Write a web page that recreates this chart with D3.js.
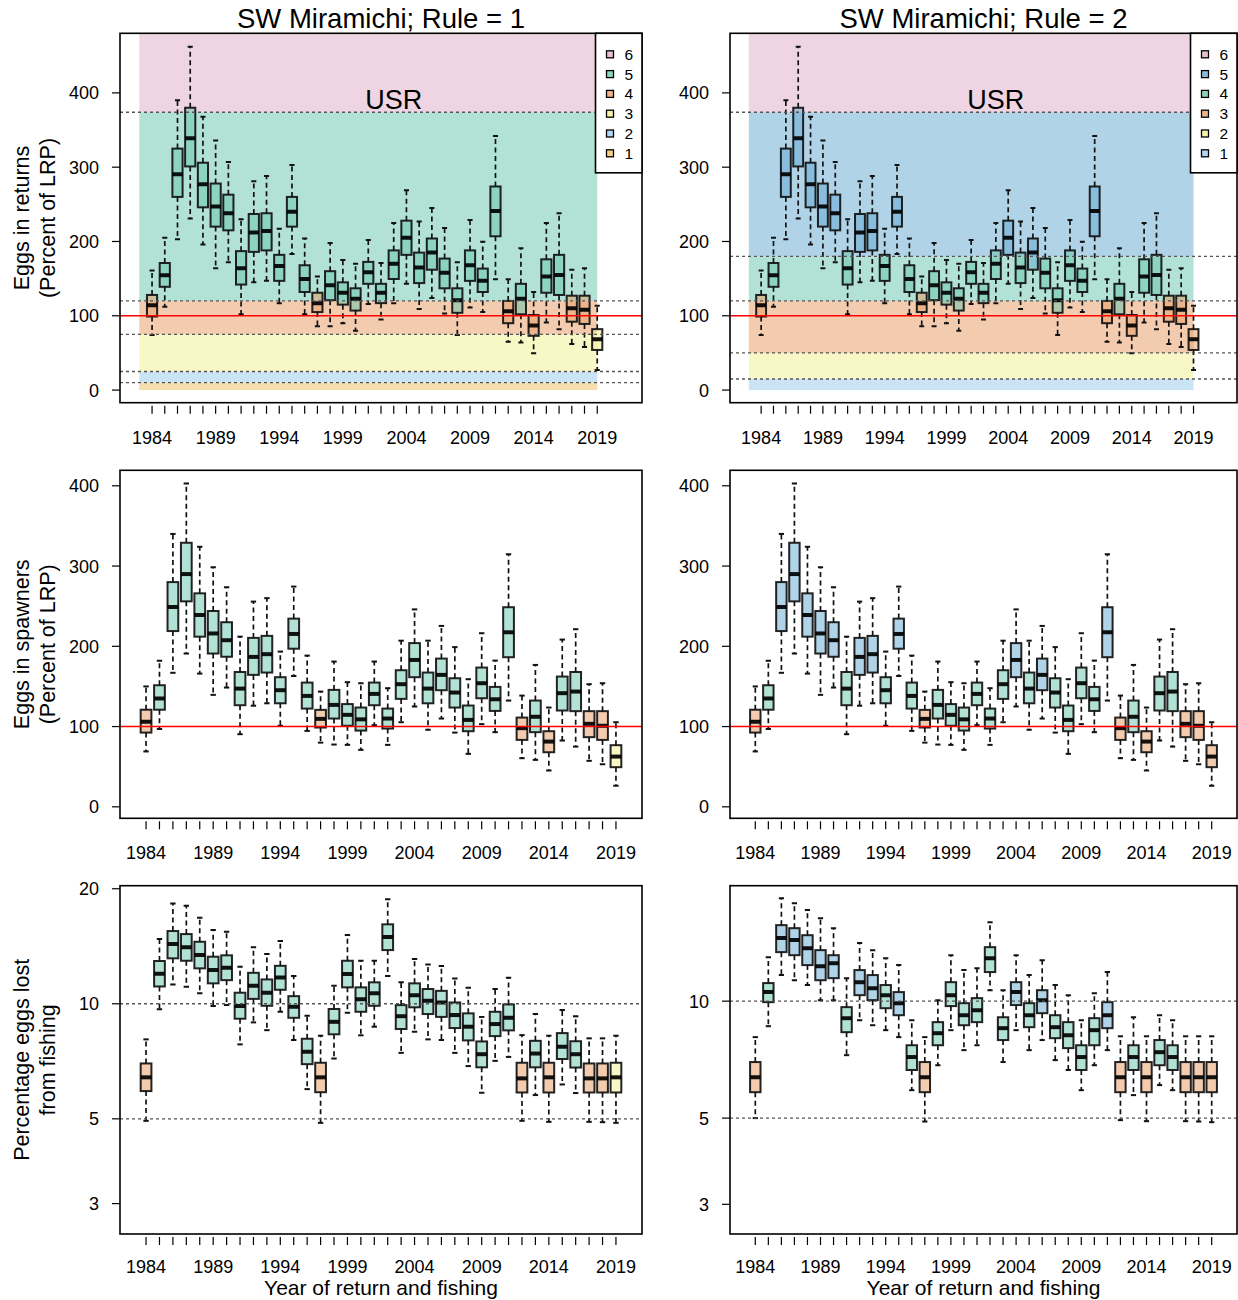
<!DOCTYPE html>
<html>
<head>
<meta charset="utf-8">
<script src="https://cdn.jsdelivr.net/npm/d3@7"></script>
<style>
  body { margin: 0; background: #fff; }
  text { font-family: "Liberation Sans", Arial, Helvetica, sans-serif; fill: #000; }
</style>
</head>
<body>
<script>
// ---- Data: SW Miramichi egg depositions (percent of LRP) and fishing losses ----
const years = [1984,1985,1986,1987,1988,1989,1990,1991,1992,1993,1994,1995,1996,1997,1998,1999,2000,2001,
               2002,2003,2004,2005,2006,2007,2008,2009,2010,2011,2012,2013,2014,2015,2016,2017,2018,2019];
const yearLabels = ["1984","1989","1994","1999","2004","2009","2014","2019"];

// Eggs in returns (percent of LRP): whisker low, Q1, median, Q3, whisker high
const returnsLow  = [74,112,203,231,196,164,172,102,145,147,117,183,102,86,86,90,80,116,95,117,143,109,124,103,74,111,105,149,65,64,49.5,91,82,62,58,27];
const returnsQ1   = [99,139,260,301,246,220,215,142,186,188,147,220,132,105,121,115,107,143,117,149.5,182,144,162,137,104,147,132,207,90,102,73,131,128,92,89,54];
const returnsMed  = [114,154.5,290.5,339,277,247,238,164,212,214,167,240,149.5,117,141,131,123,158.5,131,170,205,165,185,158,121,168,147,241,106,123,87,153,155,110,108,68.5];
const returnsQ3   = [128,171,325,380,306,278,263,187,237,238,182,260,168,131,160,145,137,172.5,143,188,228,185,204,177,137,188,163.5,274,120,143,101,176,182,127,127,82];
const returnsHigh = [161,205,390,462,368,336,307,230,281,288,217,303,204,153,198,175,170,202,171,225,269,227,245,218,172,229,199.5,342,149,191,132,225,238,162,164,113.5];

// Eggs in spawners (percent of LRP)
const spawnersLow  = [69,97,167,191,166,139.5,148.6,90.5,126,129,101,163,94.6,80,77.6,77.2,71,101.7,77.2,105.4,125,96,110,92.5,66,103,93,132.4,60.6,58.5,45.2,82.6,75,57.3,53.2,26.2];
const spawnersQ1   = [92.5,121,219,256,212,191,187,126.6,164.4,167.3,129,197,122.4,98.8,110,101,95,126.6,97.5,134.5,161.5,129,145.3,123.7,94.2,135.3,119.5,186.4,83.4,93,68,120,119.2,86.8,83.4,49.4];
const spawnersMed  = [106,135,249,290,239,216,207.6,147.3,186.8,190.2,145.3,215.4,138.2,109.6,127,114.6,109,140.7,110,152.8,183,147.3,164.4,142.4,108.3,154,134,217.5,98,112.2,81.3,141.6,143.6,103.4,101,62.6];
const spawnersQ3   = [121,151.5,280,329,266,244,230,168,210.5,213,161.5,234.5,154.8,120.8,145.7,128,123.7,154.8,122.4,170.2,204,167.3,184.7,160.2,126.2,173.5,149.4,248.7,111.2,132.4,94.2,162.3,168,119.2,119.2,76.8];
const spawnersHigh = [150,182,340,403,324,298.5,273.6,212,255.7,260,193.4,274.4,188.4,143.6,181,155.3,154,181,147.8,207,246,207,225.4,199,159,216.3,182.2,314.7,138.6,176.8,123.7,208.4,221.3,152.8,154,105.4];

// Percentage of eggs lost to fishing, Rule 1
const lost1Low  = [4.94,9.67,11.24,11.08,10.65,9.86,9.92,7.83,8.94,8.53,9.53,8.04,5.98,4.88,7.19,9.47,8.27,8.71,11.82,7.44,8.45,8.07,8.04,7.44,6.87,5.85,7.09,7.26,4.94,5.77,4.91,6.15,5.84,4.91,4.9,4.88];
const lost1Q1   = [5.91,11.1,13.15,12.96,12.38,11.31,11.53,9.14,10.3,9.88,10.88,9.19,6.95,5.87,8.32,11.04,9.53,9.88,13.82,8.59,9.79,9.4,9.24,8.64,8.02,6.82,8.23,8.52,5.86,6.82,5.86,7.17,6.81,5.86,5.86,5.86];
const lost1Med  = [6.42,11.98,14.33,14.05,13.41,12.25,12.42,9.86,11.15,10.69,11.72,9.82,7.49,6.42,8.97,11.96,10.27,10.66,14.95,9.28,10.52,10.18,10.08,9.34,8.71,7.38,8.85,9.19,6.38,7.41,6.42,7.72,7.38,6.38,6.38,6.42];
const lost1Q3   = [6.98,12.94,15.5,15.22,14.53,13.28,13.39,10.69,12.05,11.58,12.57,10.47,8.1,7.01,9.69,12.96,11.04,11.38,16.14,9.92,11.31,10.93,10.81,10.08,9.44,7.97,9.53,9.96,7.01,8.0,7.01,8.38,7.98,6.98,6.98,7.01];
const lost1High = [8.07,14.77,18.31,18.05,16.79,15.6,15.43,12.5,14.05,13.49,14.59,11.82,9.3,8.25,11.15,15.13,12.96,12.96,18.76,11.38,13.09,12.68,12.55,11.65,11.01,9.24,10.93,11.7,8.28,9.4,8.25,9.63,9.27,8.12,8.12,8.25];

// Percentage of eggs lost to fishing, Rule 2
const lost2Low  = [5.0,8.62,11.67,11.32,11.0,10.06,10.06,7.26,8.93,8.67,8.42,8.08,5.9,4.9,6.84,8.42,7.48,7.7,10.67,6.97,8.42,7.48,7.94,7.05,6.65,5.9,6.84,7.48,4.94,5.73,4.91,6.08,5.9,4.91,4.9,4.88];
const lost2Q1   = [5.83,9.94,13.37,13.13,12.38,11.32,11.46,8.32,10.36,10.06,9.59,9.2,6.65,5.83,7.7,9.71,8.67,8.83,11.88,7.94,9.77,8.57,9.31,8.03,7.57,6.65,7.7,8.52,5.83,6.65,5.83,6.84,6.65,5.83,5.83,5.83];
const lost2Med  = [6.37,10.55,14.53,14.36,13.69,12.3,12.52,9.04,11.19,10.8,10.36,9.88,7.18,6.37,8.27,10.36,9.2,9.48,12.9,8.52,10.55,9.2,10.06,8.57,8.17,7.18,8.42,9.2,6.37,7.18,6.37,7.39,7.18,6.37,6.37,6.37];
const lost2Q3   = [6.97,11.13,15.69,15.41,14.78,13.53,13.13,9.65,12.02,11.67,11.0,10.55,7.7,6.97,8.83,11.19,9.88,10.18,13.77,9.09,11.19,9.88,10.67,9.2,8.83,7.7,9.04,9.94,6.97,7.7,6.97,7.94,7.7,6.97,6.97,6.97];
const lost2High = [8.08,12.98,18.41,17.87,17.15,16.35,15.41,11.46,14.11,13.53,12.9,12.38,8.93,8.08,10.06,13.13,12.02,12.16,15.97,10.67,13.13,11.67,12.75,11.0,10.36,8.93,10.48,11.88,8.12,9.09,8.12,9.2,8.93,8.12,8.12,8.12];

// Management zone of each year under each rule (1 = lowest, 6 = above USR)
const zoneRule1 = [4,5,5,5,5,5,5,5,5,5,5,5,5,4,5,5,5,5,5,5,5,5,5,5,5,5,5,5,4,5,4,5,5,4,4,3];
const zoneRule2 = [3,4,5,5,5,5,5,4,5,5,4,5,4,3,4,4,4,4,4,4,5,4,5,4,4,4,4,5,3,4,3,4,4,3,3,3];

// Zone boundaries (percent of LRP); the top one is the USR
const limitsRule1 = [0, 10, 25, 75, 120, 374];
const limitsRule2 = [0, 15, 50, 120, 180, 374];
const legendLabels = ["6","5","4","3","2","1"];
const lrpLine = 100;
const lostRefLines = [10, 5];

// ---- Styling ----
const zoneColours = {
  1: {6:"#dfabc7", 5:"#65c5ab", 4:"#e89a62", 3:"#f2ef8d", 2:"#96c9ec", 1:"#edbd62"},
  2: {6:"#dfabc7", 5:"#61a7d1", 4:"#65c5ab", 3:"#e89a62", 2:"#f2ef8d", 1:"#96c9ec"}
};
const ALPHA = 0.5;

const svg = d3.select("body").append("svg").attr("width", 1238).attr("height", 1300);

const cols = [
  {rule: 1, x0: 120, x1: 642, zones: zoneRule1, limits: limitsRule1, lost: [lost1Low,lost1Q1,lost1Med,lost1Q3,lost1High], logDomain: [2.498, 20.37]},
  {rule: 2, x0: 730, x1: 1237, zones: zoneRule2, limits: limitsRule2, lost: [lost2Low,lost2Q1,lost2Med,lost2Q3,lost2High], logDomain: [2.516, 19.82]}
];
const rows = {
  top: {y0: 33.3, y1: 402.7, labelGap: 41},
  mid: {y0: 470.3, y1: 818.3, labelGap: 41},
  bot: {y0: 885.7, y1: 1234, labelGap: 38.5}
};

let clipCount = 0;

function statsOf(arrs) {
  return years.map((yr, i) => ({
    year: yr, pos: i + 1,
    lo: arrs[0][i], q1: arrs[1][i], med: arrs[2][i], q3: arrs[3][i], hi: arrs[4][i]
  }));
}

function drawPanel(col, row, x, y, stats, opts) {
  const g = svg.append("g");
  const id = "clip" + (clipCount++);
  g.append("clipPath").attr("id", id).append("rect")
    .attr("x", col.x0).attr("y", row.y0)
    .attr("width", col.x1 - col.x0).attr("height", row.y1 - row.y0);
  const plot = g.append("g").attr("clip-path", `url(#${id})`);
  const pal = zoneColours[col.rule];

  // zone bands
  if (opts.bands) {
    const lim = col.limits;
    const bands = lim.map((lo, k) => ({zone: k + 1, lo: lo, hi: k + 1 < lim.length ? lim[k + 1] : 100000}));
    plot.selectAll("rect.band").data(bands).join("rect")
      .attr("class", "band")
      .attr("x", x(0)).attr("width", x(36) - x(0))
      .attr("y", d => y(d.hi)).attr("height", d => y(d.lo) - y(d.hi))
      .attr("fill", d => pal[d.zone]).attr("fill-opacity", ALPHA);
  }

  // boxplots
  const hw = 0.4;
  const bg = plot.selectAll("g.box").data(stats).join("g").attr("class", "box");
  bg.append("line")
    .attr("x1", d => x(d.pos)).attr("x2", d => x(d.pos))
    .attr("y1", d => y(d.q3)).attr("y2", d => y(d.hi))
    .attr("stroke", "#111").attr("stroke-width", 1.7).attr("stroke-dasharray", "5,3.5");
  bg.append("line")
    .attr("x1", d => x(d.pos)).attr("x2", d => x(d.pos))
    .attr("y1", d => y(d.q1)).attr("y2", d => y(d.lo))
    .attr("stroke", "#111").attr("stroke-width", 1.7).attr("stroke-dasharray", "5,3.5");
  ["hi", "lo"].forEach(k => {
    bg.append("line")
      .attr("x1", d => x(d.pos - hw / 2)).attr("x2", d => x(d.pos + hw / 2))
      .attr("y1", d => y(d[k])).attr("y2", d => y(d[k]))
      .attr("stroke", "#111").attr("stroke-width", 2);
  });
  bg.append("rect")
    .attr("x", d => x(d.pos - hw)).attr("width", d => x(d.pos + hw) - x(d.pos - hw))
    .attr("y", d => y(d.q3)).attr("height", d => y(d.q1) - y(d.q3))
    .attr("fill", (d, i) => pal[col.zones[i]]).attr("fill-opacity", ALPHA)
    .attr("stroke", "#111").attr("stroke-opacity", 0.92).attr("stroke-width", 2);
  bg.append("line")
    .attr("x1", d => x(d.pos - hw)).attr("x2", d => x(d.pos + hw))
    .attr("y1", d => y(d.med)).attr("y2", d => y(d.med))
    .attr("stroke", "#000").attr("stroke-opacity", 0.92).attr("stroke-width", 4);

  // reference lines
  (opts.dotted || []).forEach(v => {
    plot.append("line").attr("x1", col.x0).attr("x2", col.x1)
      .attr("y1", y(v)).attr("y2", y(v))
      .attr("stroke", "#555").attr("stroke-width", 1.4).attr("stroke-dasharray", "3,3");
  });
  if (opts.red) {
    plot.append("line").attr("x1", col.x0).attr("x2", col.x1)
      .attr("y1", y(lrpLine)).attr("y2", y(lrpLine))
      .attr("stroke", "#ff0000").attr("stroke-width", 1.6);
  }

  // USR label
  if (opts.usr) {
    g.append("text").attr("x", x(20)).attr("y", y(col.limits[5]) - 3)
      .attr("text-anchor", "middle").attr("font-size", 27).text("USR");
  }

  // frame
  g.append("rect").attr("x", col.x0).attr("y", row.y0)
    .attr("width", col.x1 - col.x0).attr("height", row.y1 - row.y0)
    .attr("fill", "none").attr("stroke", "#000").attr("stroke-width", 1.6);

  // x axis: a tick for every year, label every fifth
  const ax = g.append("g");
  ax.selectAll("line").data(stats).join("line")
    .attr("x1", d => x(d.pos)).attr("x2", d => x(d.pos))
    .attr("y1", row.y1 + 3).attr("y2", row.y1 + 11)
    .attr("stroke", "#000").attr("stroke-width", 1.2);
  ax.selectAll("text").data(stats.filter(d => yearLabels.includes(String(d.year)))).join("text")
    .attr("x", d => x(d.pos)).attr("y", row.y1 + row.labelGap)
    .attr("text-anchor", "middle").attr("font-size", 18).text(d => d.year);

  // y axis
  const yt = opts.yTicks.filter(v => v >= y.domain()[0] && v <= y.domain()[1]);
  const ay = g.append("g");
  ay.selectAll("line").data(yt).join("line")
    .attr("x1", col.x0 - 8).attr("x2", col.x0)
    .attr("y1", d => y(d)).attr("y2", d => y(d))
    .attr("stroke", "#000").attr("stroke-width", 1.2);
  ay.selectAll("text").data(yt).join("text")
    .attr("x", col.x0 - 21).attr("y", d => y(d) + 6.5)
    .attr("text-anchor", "end").attr("font-size", 18).text(d => d);

  // legend
  if (opts.legend) {
    const lw = 46.5, lh = 139.5;
    const lg = g.append("g");
    lg.append("rect").attr("x", col.x1 - lw).attr("y", row.y0).attr("width", lw).attr("height", lh)
      .attr("fill", "#fff").attr("stroke", "#000").attr("stroke-width", 1.6);
    const it = lg.selectAll("g").data(legendLabels).join("g")
      .attr("transform", (d, i) => `translate(${col.x1 - lw}, ${row.y0 + 21 + i * 19.8})`);
    it.append("rect").attr("x", 11).attr("y", -3.5).attr("width", 7).attr("height", 7)
      .attr("fill", d => pal[+d]).attr("fill-opacity", 0.75)
      .attr("stroke", "#000").attr("stroke-width", 1.3);
    it.append("text").attr("x", 29).attr("y", 5.5).attr("font-size", 15.5).text(d => d);
  }
}

const retStats = statsOf([returnsLow, returnsQ1, returnsMed, returnsQ3, returnsHigh]);
const spaStats = statsOf([spawnersLow, spawnersQ1, spawnersMed, spawnersQ3, spawnersHigh]);

cols.forEach(col => {
  // top: eggs in returns with management zones
  const xTop = d3.scaleLinear().domain([-1.52, 39.52]).range([col.x0, col.x1]);
  const yTop = d3.scaleLinear().domain([-17, 480.2]).range([rows.top.y1, rows.top.y0]);
  drawPanel(col, rows.top, xTop, yTop, retStats,
    {bands: true, dotted: col.limits.slice(1), red: true, usr: true, legend: true, yTicks: [0,100,200,300,400]});

  // middle: eggs in spawners
  const xMid = d3.scaleLinear().domain([-0.94, 37.94]).range([col.x0, col.x1]);
  const yMid = d3.scaleLinear().domain([-14.3, 419.3]).range([rows.mid.y1, rows.mid.y0]);
  drawPanel(col, rows.mid, xMid, yMid, spaStats, {red: true, yTicks: [0,100,200,300,400]});

  // bottom: percentage of eggs lost to fishing (log scale)
  const yBot = d3.scaleLog().domain(col.logDomain).range([rows.bot.y1, rows.bot.y0]);
  drawPanel(col, rows.bot, xMid, yBot, statsOf(col.lost), {dotted: lostRefLines, yTicks: [3,5,10,20]});

  // titles
  const cx = (col.x0 + col.x1) / 2;
  svg.append("text").attr("x", cx).attr("y", 28).attr("text-anchor", "middle")
    .attr("font-size", 27.5).text(`SW Miramichi; Rule = ${col.rule}`);
  svg.append("text").attr("x", cx).attr("y", 1294.5).attr("text-anchor", "middle")
    .attr("font-size", 21).text("Year of return and fishing");
});

// y-axis titles (left column only)
const yTitles = [
  {row: rows.top, lines: ["Eggs in returns", "(Percent of LRP)"]},
  {row: rows.mid, lines: ["Eggs in spawners", "(Percent of LRP)"]},
  {row: rows.bot, lines: ["Percentage eggs lost", "from fishing"]}
];
yTitles.forEach(t => {
  const cy = (t.row.y0 + t.row.y1) / 2;
  t.lines.forEach((s, j) => {
    svg.append("text")
      .attr("transform", `translate(${29 + j * 26}, ${cy}) rotate(-90)`)
      .attr("text-anchor", "middle").attr("font-size", 21.5).text(s);
  });
});
</script>
</body>
</html>
